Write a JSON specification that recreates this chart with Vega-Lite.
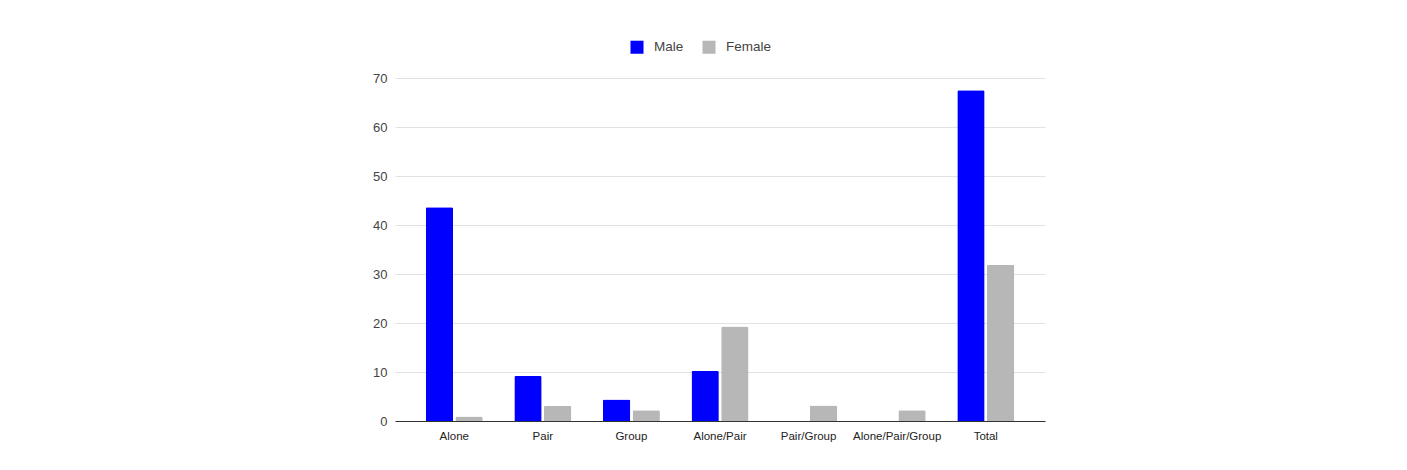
{
  "$schema": "https://vega.github.io/schema/vega-lite/v6.json",
  "width": 650,
  "height": 343,
  "autosize": "none",
  "padding": {"left": 395, "top": 78, "right": 362, "bottom": 49},
  "background": "white",
  "config": {
    "view": {"stroke": null},
    "font": "Liberation Sans"
  },
  "data": {
    "values": [
      {"category": "Alone", "sex": "Male", "value": 43.6},
      {"category": "Alone", "sex": "Female", "value": 0.9},
      {"category": "Pair", "sex": "Male", "value": 9.2},
      {"category": "Pair", "sex": "Female", "value": 3.1},
      {"category": "Group", "sex": "Male", "value": 4.4},
      {"category": "Group", "sex": "Female", "value": 2.2},
      {"category": "Alone/Pair", "sex": "Male", "value": 10.2},
      {"category": "Alone/Pair", "sex": "Female", "value": 19.3},
      {"category": "Pair/Group", "sex": "Male", "value": 0},
      {"category": "Pair/Group", "sex": "Female", "value": 3.15},
      {"category": "Alone/Pair/Group", "sex": "Male", "value": 0},
      {"category": "Alone/Pair/Group", "sex": "Female", "value": 2.2},
      {"category": "Total", "sex": "Male", "value": 67.5},
      {"category": "Total", "sex": "Female", "value": 31.9}
    ]
  },
  "mark": {"type": "bar", "cornerRadiusTopLeft": 1.5, "cornerRadiusTopRight": 1.5},
  "encoding": {
    "x": {
      "field": "category",
      "type": "nominal",
      "sort": null,
      "scale": {"paddingInner": 0.357, "paddingOuter": 0.347},
      "axis": {
        "title": null,
        "labelAngle": 0,
        "ticks": false,
        "labelPadding": 9,
        "labelFontSize": 11.5,
        "labelColor": "#222222",
        "domainColor": "#333333",
        "domainWidth": 1,
        "grid": false
      }
    },
    "xOffset": {
      "field": "sex",
      "type": "nominal",
      "sort": ["Male", "Female"],
      "scale": {"domain": ["Male", "Female"], "paddingInner": 0.08}
    },
    "y": {
      "field": "value",
      "type": "quantitative",
      "scale": {"domain": [0, 70], "nice": false},
      "axis": {
        "title": null,
        "values": [0, 10, 20, 30, 40, 50, 60, 70],
        "domain": false,
        "ticks": false,
        "labelPadding": 8,
        "labelFontSize": 13,
        "labelColor": "#444444",
        "gridColor": "#e2e2e2",
        "gridWidth": 1
      }
    },
    "color": {
      "field": "sex",
      "type": "nominal",
      "scale": {"domain": ["Male", "Female"], "range": ["#0000ff", "#b7b7b7"]},
      "legend": {
        "title": null,
        "orient": "none",
        "direction": "horizontal",
        "legendX": 235,
        "legendY": -38,
        "symbolType": "square",
        "symbolSize": 170,
        "symbolStrokeWidth": 0,
        "labelFontSize": 13.5,
        "labelColor": "#444444",
        "columnPadding": 18,
        "labelOffset": 10
      }
    }
  }
}
